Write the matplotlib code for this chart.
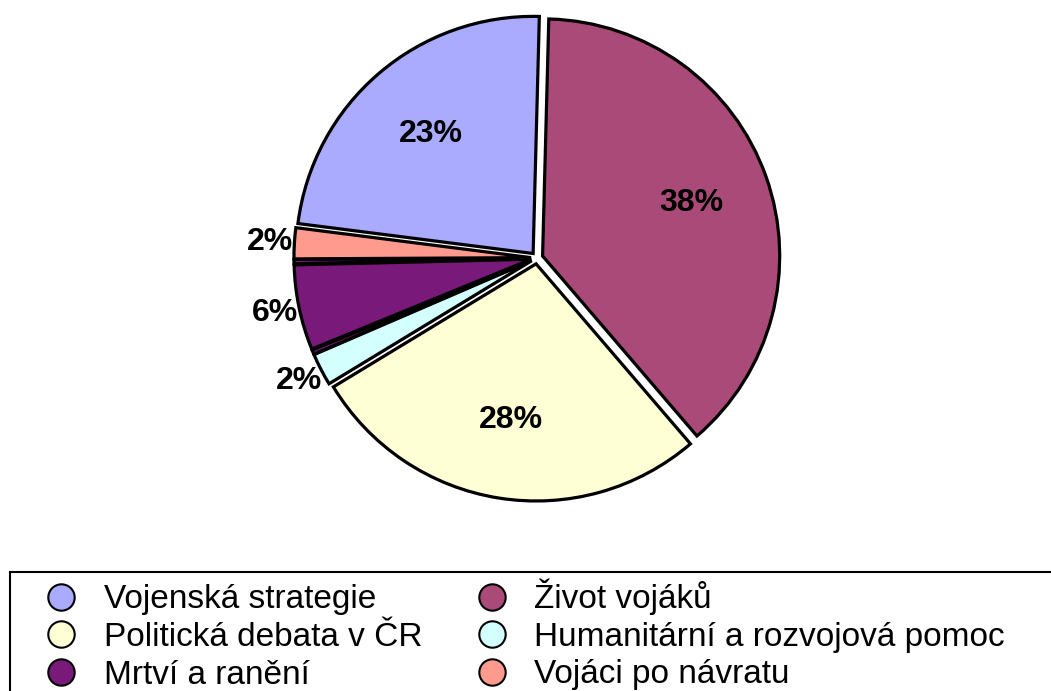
import matplotlib.pyplot as plt
import numpy as np
from matplotlib.lines import Line2D
from matplotlib.patches import Rectangle

plt.rcParams['font.family'] = ['Liberation Sans', 'DejaVu Sans']

# slices in drawing order (clockwise from the top); two tiny unlabeled slivers
categories = ["Život vojáků", "Politická debata v ČR", "Humanitární a rozvojová pomoc",
              "", "Mrtví a ranění", "", "Vojáci po návratu", "Vojenská strategie"]
values = [38.3, 27.6, 2.2, 0.3, 5.8, 0.3, 2.1, 23.4]
colors = ["#A94A78", "#FFFFD6", "#D4FFFF", "#79197A", "#79197A", "#79197A",
          "#FF9A8F", "#AAAAFF"]

legend_order = ["Vojenská strategie", "Život vojáků", "Politická debata v ČR",
                "Humanitární a rozvojová pomoc", "Mrtví a ranění", "Vojáci po návratu"]

W, H = 1051, 691
fig = plt.figure(figsize=(W / 100, H / 100), dpi=100)

cx, cy, r_px = 537, 258, 247
half = 1.2 * r_px
ax = fig.add_axes([(cx - half) / W, (H - cy - half) / H, 2 * half / W, 2 * half / H])
ax.set_xlim(-1.2, 1.2)
ax.set_ylim(-1.2, 1.2)
ax.set_aspect("equal")
ax.axis("off")

wedges, _ = ax.pie(values, colors=colors, startangle=88.5, counterclock=False,
                   explode=[0.025] * len(values), radius=1.0,
                   wedgeprops=dict(edgecolor="black", linewidth=2.3),
                   frame=False)

total = sum(values)
for w, v in zip(wedges, values):
    pct = 100 * v / total
    if pct < 1:
        continue
    ang = np.deg2rad((w.theta1 + w.theta2) / 2)
    dist = 0.69 if pct > 10 else 1.13
    ax.text(dist * np.cos(ang), dist * np.sin(ang), "{:.0f}%".format(pct),
            ha="center", va="center", fontsize=23, fontweight="bold")

color_of = dict(zip(categories, colors))
# matplotlib fills legend columns top-down, reference reads row by row
col_major = legend_order[0::2] + legend_order[1::2]
handles = [Line2D([], [], linestyle="none", marker="o", markersize=19,
                  markerfacecolor=color_of[c], markeredgecolor="black",
                  markeredgewidth=1.5) for c in col_major]

fig.add_artist(Rectangle((10 / W, -0.05), 1.1, (H - 572) / H + 0.05,
                         transform=fig.transFigure, fill=False,
                         edgecolor="black", linewidth=1.5))
fig.legend(handles, col_major, ncol=2, loc="upper left",
           bbox_to_anchor=(28 / W, 1 - 562 / H), frameon=False,
           fontsize=24, labelspacing=0.2, handlelength=1.0,
           handletextpad=0.78, columnspacing=1.58, borderpad=0.0)

plt.savefig("out.png", dpi=100)
